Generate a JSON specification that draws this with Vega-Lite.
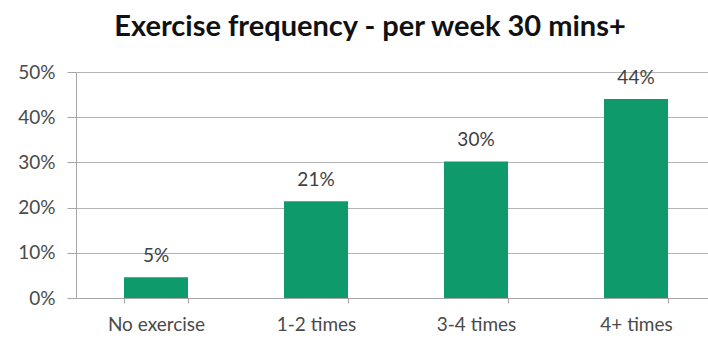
{
  "$schema": "https://vega.github.io/schema/vega-lite/v6.json",
  "width": 640,
  "height": 226,
  "autosize": "none",
  "padding": {"left": 76, "top": 72, "right": 0, "bottom": 44},
  "background": "white",
  "config": {"view": {"stroke": null}, "font": "Lato"},
  "title": {
    "text": "Exercise frequency - per week 30 mins+",
    "font": "Lato",
    "fontSize": 29,
    "fontWeight": "bold",
    "color": "#111111",
    "anchor": "middle",
    "dx": -26,
    "offset": 21
  },
  "data": {
    "values": [
      {"category": "No exercise", "value": 0.046, "label": "5%"},
      {"category": "1-2 times", "value": 0.214, "label": "21%"},
      {"category": "3-4 times", "value": 0.302, "label": "30%"},
      {"category": "4+ times", "value": 0.44, "label": "44%"}
    ]
  },
  "encoding": {
    "x": {
      "field": "category",
      "type": "nominal",
      "sort": null,
      "scale": {"paddingInner": 0.6, "paddingOuter": 0.3},
      "axis": {
        "title": null,
        "labelAngle": 0,
        "labelFontSize": 19,
        "labelColor": "#4a4a4a",
        "labelPadding": 12,
        "domainColor": "#a6a6a6",
        "tickColor": "#a6a6a6",
        "tickSize": 5,
        "tickBand": "extent"
      }
    },
    "y": {
      "field": "value",
      "type": "quantitative",
      "scale": {"domain": [0, 0.5]},
      "axis": {
        "title": null,
        "format": ".0%",
        "values": [0, 0.1, 0.2, 0.3, 0.4, 0.5],
        "labelFontSize": 19,
        "labelColor": "#4a4a4a",
        "labelPadding": 12,
        "tickSize": 9,
        "tickColor": "#a6a6a6",
        "domainColor": "#a6a6a6",
        "gridColor": "#b5b5b5",
        "grid": true
      }
    }
  },
  "layer": [
    {"mark": {"type": "bar", "color": "#0f9a6c"}},
    {
      "mark": {"type": "text", "baseline": "alphabetic", "dy": -15, "fontSize": 19, "color": "#404040"},
      "encoding": {"text": {"field": "label"}}
    }
  ]
}
